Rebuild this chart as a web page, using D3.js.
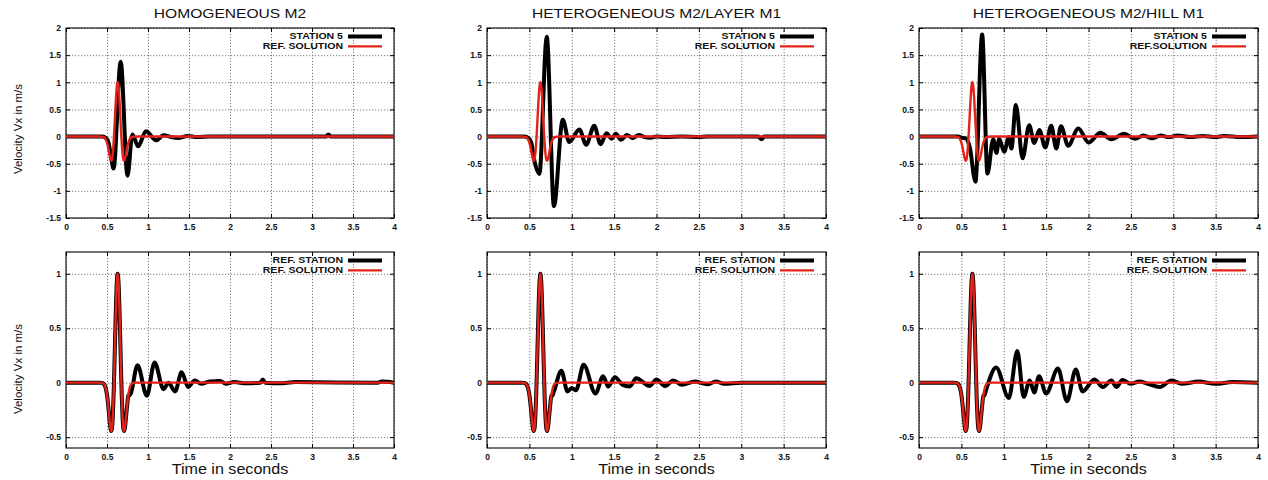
<!DOCTYPE html>
<html>
<head>
<meta charset="utf-8">
<title>Velocity Vx seismograms</title>
<style>
  body { margin: 0; background: #fff; }
  svg { display: block; font-family: "Liberation Sans", Arial, sans-serif; }
</style>
</head>
<body>
<script src="https://cdn.jsdelivr.net/npm/d3@7"></script>
<script>
// titles, legends, ticks
const panelTitles = ["HOMOGENEOUS M2", "HETEROGENEOUS M2/LAYER M1", "HETEROGENEOUS M2/HILL M1"]
const topLegends = [["STATION 5", "REF. SOLUTION"], ["STATION 5", "REF. SOLUTION"], ["STATION 5", "REF.SOLUTION"]]
const bottomLegend = ["REF. STATION", "REF. SOLUTION"]
const xTicks = [0, 0.5, 1, 1.5, 2, 2.5, 3, 3.5, 4]
const topYTicks = [-1.5, -1, -0.5, 0, 0.5, 1, 1.5, 2]
const bottomYTicks = [-0.5, 0, 0.5, 1]

// [time s, Vx m/s]
const refSolution = [[0,0],[0.40,0],[0.44,-0.002],[0.46,-0.01],[0.48,-0.039],[0.50,-0.113],[0.51,-0.175],
  [0.52,-0.251],[0.53,-0.334],[0.54,-0.406],[0.55,-0.445],[0.56,-0.423],[0.57,-0.319],[0.58,-0.126],
  [0.59,0.142],[0.60,0.445],[0.61,0.727],[0.62,0.928],[0.63,1.0],[0.64,0.928],[0.65,0.727],[0.66,0.445],
  [0.67,0.142],[0.68,-0.126],[0.69,-0.319],[0.70,-0.423],[0.71,-0.445],[0.72,-0.406],[0.73,-0.334],
  [0.74,-0.251],[0.75,-0.175],[0.76,-0.113],[0.78,-0.039],[0.80,-0.01],[0.82,-0.002],[0.86,0],[4,0]]

const station5Homog = [[0,0],[0.44,0],[0.48,-0.02],[0.52,-0.12],[0.55,-0.38],[0.58,-0.59],[0.667,1.38],
  [0.75,-0.72],[0.81,0.04],[0.88,-0.18],[0.975,0.1],[1.10,-0.07],[1.19,0.025],[1.28,-0.01],[1.38,-0.025],
  [1.48,0.01],[1.60,-0.01],[1.75,0],[3.17,0],[3.2,0.04],[3.23,0],[4,0]]

const station5Layer = [[0,0],[0.44,0],[0.47,-0.01],[0.52,-0.1],[0.56,-0.45],[0.618,-0.69],[0.705,1.84],
  [0.79,-1.28],[0.894,0.31],[0.97,-0.1],[1.09,0.13],[1.17,-0.15],[1.265,0.2],[1.34,-0.14],[1.41,0.06],
  [1.47,-0.04],[1.52,0.05],[1.58,-0.06],[1.65,0.03],[1.72,-0.03],[1.79,0.03],[1.86,-0.01],[1.93,-0.02],
  [2.0,0],[2.1,-0.01],[2.3,0],[2.5,-0.01],[2.6,0],[3.2,0],[3.24,-0.05],[3.27,0],[4,0]]

const station5Hill = [[0,0],[0.46,0],[0.5,-0.02],[0.55,-0.03],[0.6,-0.2],[0.666,-0.83],[0.745,1.88],
  [0.808,-0.68],[0.875,-0.05],[0.914,-0.3],[0.946,-0.04],[1.005,-0.28],[1.06,-0.01],[1.09,-0.22],
  [1.143,0.58],[1.222,-0.4],[1.30,0.21],[1.36,-0.12],[1.42,0.12],[1.49,-0.2],[1.56,0.2],[1.62,-0.22],
  [1.675,0.19],[1.76,-0.17],[1.88,0.15],[2.0,-0.11],[2.14,0.07],[2.27,-0.05],[2.42,0.05],[2.55,-0.04],
  [2.65,0.02],[2.75,-0.03],[2.85,0.02],[2.95,-0.01],[3.05,0.02],[3.2,-0.01],[3.35,0.01],[3.5,-0.01],
  [3.6,0.01],[3.8,-0.01],[4,0]]

// reference stations follow the pulse, then these codas
const codaHomog = [[0.77,-0.12],[0.79,-0.1],[0.872,0.16],[0.986,-0.12],[1.08,0.185],[1.19,-0.06],[1.25,0],
  [1.33,-0.08],[1.41,0.095],[1.49,-0.04],[1.57,0.02],[1.65,-0.01],[1.75,0.01],[1.88,0.015],[1.95,-0.01],
  [2.05,0.005],[2.2,-0.005],[2.37,0],[2.4,0.03],[2.43,0],[2.6,-0.005],[2.8,0.005],[3.8,0],[3.85,0.01],[4,0]]

const codaLayer = [[0.77,-0.12],[0.79,-0.08],[0.878,0.11],[0.95,-0.08],[1.0,-0.05],[1.05,-0.07],[1.14,0.165],
  [1.28,-0.1],[1.37,0.06],[1.43,-0.035],[1.51,0.05],[1.6,-0.02],[1.685,-0.035],[1.76,0.04],[1.92,-0.03],
  [2.0,0.03],[2.1,-0.03],[2.2,0.02],[2.3,-0.02],[2.45,0.01],[2.6,-0.015],[2.7,0.01],[2.8,-0.01],[3.0,0],[4,0]]

const codaHill = [[0.77,-0.12],[0.79,-0.07],[0.91,0.14],[1.06,-0.14],[1.16,0.29],[1.235,-0.13],[1.306,0.02],
  [1.36,-0.09],[1.416,0.06],[1.5,-0.1],[1.64,0.13],[1.746,-0.17],[1.85,0.12],[1.93,-0.08],[2.07,0.03],
  [2.17,-0.04],[2.27,0.02],[2.33,-0.04],[2.4,0.025],[2.5,-0.01],[2.6,0.01],[2.7,-0.01],[2.84,-0.04],
  [2.98,0.02],[3.1,-0.01],[3.3,0.01],[3.5,-0.01],[3.7,0.005],[4,0]]

const pulse = refSolution.filter(d => d[0] <= 0.76)
const refStationHomog = pulse.concat(codaHomog)
const refStationLayer = pulse.concat(codaLayer)
const refStationHill = pulse.concat(codaHill)

// layout
const width = 1268, height = 480
const cols = [{l: 66, r: 394}, {l: 487, r: 826}, {l: 919, r: 1258}]
const rows = [
  {t: 28, b: 218, domain: [-1.5, 2], ticks: topYTicks},
  {t: 252, b: 448, domain: [-0.6, 1.2], ticks: bottomYTicks}
]
const RED = "#e3231a"

const svg = d3.select("body").append("svg")
  .attr("width", width).attr("height", height)
svg.append("rect").attr("width", width).attr("height", height).attr("fill", "#fff")

// text stretched a bit wider, like the original export
const stretchText = (g, x, y, str, size, weight, anchor, sx) =>
  g.append("text")
    .attr("transform", `translate(${x},${y}) scale(${sx},1)`)
    .attr("font-size", size)
    .attr("font-weight", weight)
    .attr("text-anchor", anchor)
    .attr("fill", "#111")
    .text(str)

const fmt = d => String(d)

function drawPanel(col, row, black, legend) {
  const x = d3.scaleLinear().domain([0, 4]).range([col.l, col.r])
  const y = d3.scaleLinear().domain(row.domain).range([row.b, row.t])
  const g = svg.append("g")
  const w = col.r - col.l, h = row.b - row.t

  // dotted grid
  const grid = g.append("g").attr("class", "grid")
  grid.append("g").attr("transform", `translate(0,${row.b})`)
    .call(d3.axisBottom(x).tickValues(xTicks).tickSize(-h).tickFormat(""))
  grid.append("g").attr("transform", `translate(${col.l},0)`)
    .call(d3.axisLeft(y).tickValues(row.ticks).tickSize(-w).tickFormat(""))
  grid.selectAll(".domain").remove()
  grid.selectAll("line").attr("stroke", "#6f6f6f").attr("stroke-width", 0.9).attr("stroke-dasharray", "1.2,1.8")

  // inward ticks on all sides
  const ax = g.append("g")
  ax.append("g").attr("transform", `translate(0,${row.b})`)
    .call(d3.axisBottom(x).tickValues(xTicks).tickSizeInner(-4).tickSizeOuter(0).tickPadding(6).tickFormat(fmt))
  ax.append("g").attr("transform", `translate(0,${row.t})`)
    .call(d3.axisTop(x).tickValues(xTicks).tickSizeInner(-4).tickSizeOuter(0).tickFormat(""))
  ax.append("g").attr("transform", `translate(${col.l},0)`)
    .call(d3.axisLeft(y).tickValues(row.ticks).tickSizeInner(-4).tickSizeOuter(0).tickPadding(5).tickFormat(fmt))
  ax.append("g").attr("transform", `translate(${col.r},0)`)
    .call(d3.axisRight(y).tickValues(row.ticks).tickSizeInner(-4).tickSizeOuter(0).tickFormat(""))
  ax.selectAll(".domain").remove()
  ax.selectAll("g").attr("font-family", null)
  ax.selectAll("text").attr("font-size", 8.5).attr("font-weight", "bold").attr("fill", "#111")

  // frame
  g.append("rect").attr("x", col.l).attr("y", row.t).attr("width", w).attr("height", h)
    .attr("fill", "none").attr("stroke", "#000").attr("stroke-width", 1.1)

  // curves
  const line = d3.line().curve(d3.curveMonotoneX).x(d => x(d[0])).y(d => y(d[1]))
  g.append("path").attr("d", line(black)).attr("fill", "none")
    .attr("stroke", "#000").attr("stroke-width", 4).attr("stroke-linejoin", "round")
  g.append("path").attr("d", line(refSolution)).attr("fill", "none")
    .attr("stroke", RED).attr("stroke-width", 2.4).attr("stroke-linejoin", "round")

  // legend
  const lg = g.append("g")
  stretchText(lg, col.r - 51, row.t + 11.3, legend[0], 8.8, "bold", "end", 1.2)
  stretchText(lg, col.r - 51, row.t + 21.2, legend[1], 8.8, "bold", "end", 1.2)
  lg.append("line").attr("x1", col.r - 46).attr("x2", col.r - 12)
    .attr("y1", row.t + 8.6).attr("y2", row.t + 8.6).attr("stroke", "#000").attr("stroke-width", 4)
  lg.append("line").attr("x1", col.r - 46).attr("x2", col.r - 12)
    .attr("y1", row.t + 18.4).attr("y2", row.t + 18.4).attr("stroke", RED).attr("stroke-width", 2.4)
}

const topSeries = [station5Homog, station5Layer, station5Hill]
const bottomSeries = [refStationHomog, refStationLayer, refStationHill]

cols.forEach((col, i) => {
  drawPanel(col, rows[0], topSeries[i], topLegends[i])
  drawPanel(col, rows[1], bottomSeries[i], bottomLegend)
  const cx = (col.l + col.r) / 2
  stretchText(svg, cx, 17.5, panelTitles[i], 13, "normal", "middle", 1.2)
  stretchText(svg, cx, 474, "Time in seconds", 14, "normal", "middle", 1.15)
})

// y axis titles on the left column
;[129, 369].forEach(cy => {
  svg.append("text")
    .attr("transform", `translate(21.5,${cy}) rotate(-90)`)
    .attr("font-size", 11.5)
    .attr("text-anchor", "middle")
    .attr("fill", "#111")
    .text("Velocity Vx in m/s")
})
</script>
</body>
</html>
